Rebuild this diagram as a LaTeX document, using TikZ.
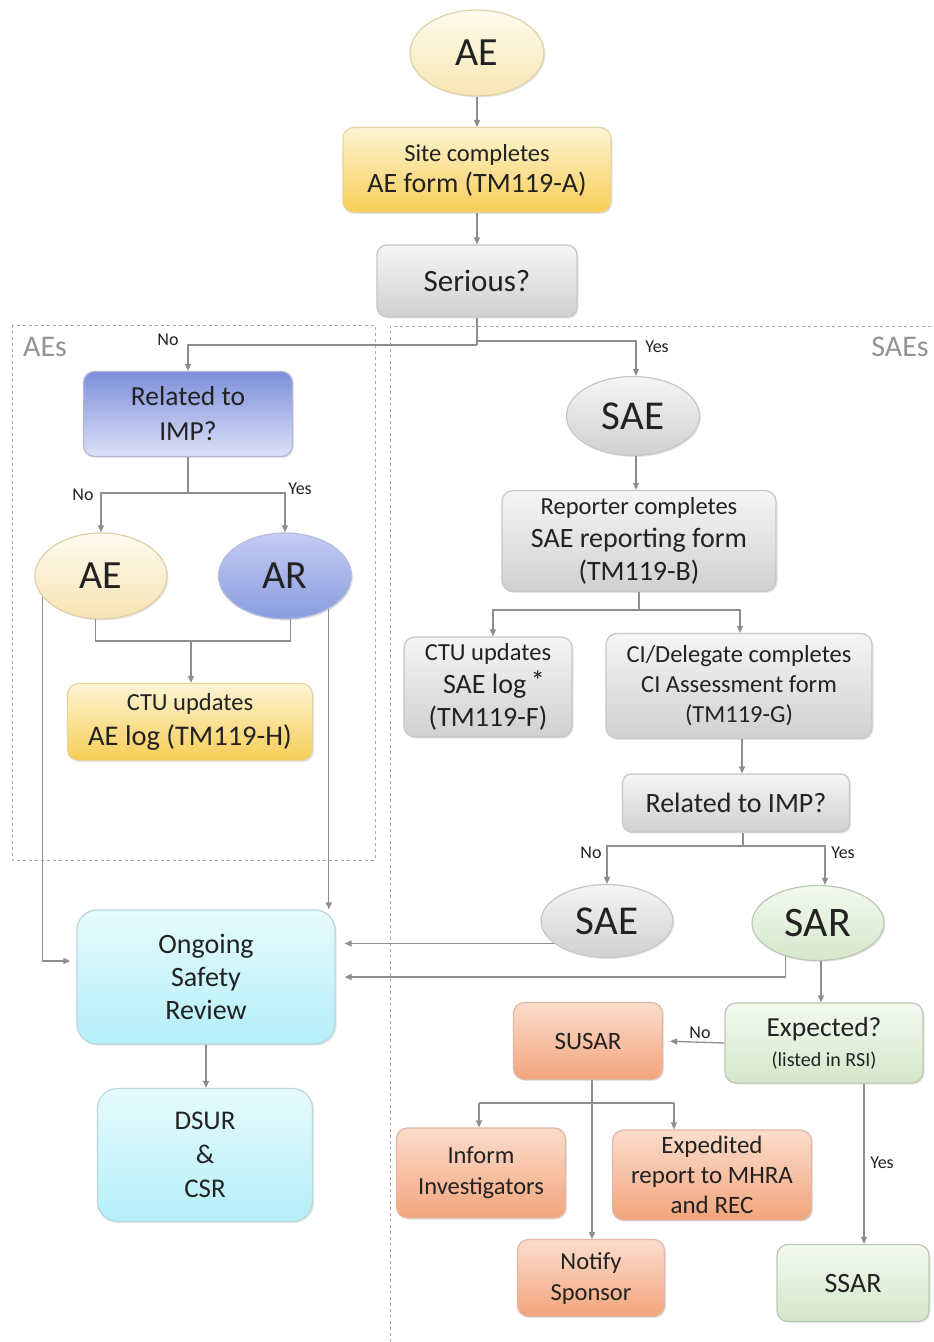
\documentclass[tikz,border=0pt]{standalone}
\usepackage{fontspec}
\setmainfont{Carlito}
\usetikzlibrary{shapes.geometric,arrows.meta,shadows,calc}
\newcommand\fz[2]{\fontsize{#1}{#2}\selectfont}
\definecolor{ln}{HTML}{8E8E8E}
\definecolor{txt}{HTML}{222222}
\definecolor{dash}{HTML}{A8A8A8}
\definecolor{bord}{HTML}{C6C6C6}
\definecolor{yelT}{HTML}{FEFAEC}\definecolor{yelB}{HTML}{F7E6B4}
\definecolor{goldT}{HTML}{FDF4D4}\definecolor{goldB}{HTML}{F7CD55}
\definecolor{grT}{HTML}{F5F5F5}\definecolor{grB}{HTML}{D0D0D0}
\definecolor{blT}{HTML}{7D8FDB}\definecolor{blB}{HTML}{DCE1F7}
\definecolor{bcT}{HTML}{C3CCF2}\definecolor{bcB}{HTML}{8A9CE0}
\definecolor{crT}{HTML}{FEFBF0}\definecolor{crB}{HTML}{F5E3B0}
\definecolor{cyT}{HTML}{E6FBFD}\definecolor{cyB}{HTML}{B4EFF8}
\definecolor{gnT}{HTML}{F3F9EF}\definecolor{gnB}{HTML}{D4E7CA}
\definecolor{orT}{HTML}{FBDDCC}\definecolor{orB}{HTML}{F3A47C}
\begin{document}
\begin{tikzpicture}[x=1pt,y=-1pt,
  base/.style={draw=bord, line width=1.2pt, inner sep=0pt, align=center, text=txt,
    drop shadow={shadow xshift=1.5pt,shadow yshift=-1.5pt,opacity=.18}},
  rbox/.style={base, rectangle, rounded corners=11pt},
  oval/.style={base, ellipse},
  yel/.style={top color=yelT, bottom color=yelB, draw=yelB!80!gray},
  gold/.style={top color=goldT, bottom color=goldB, draw=goldB!70!gray!60},
  gry/.style={top color=grT, bottom color=grB},
  blu/.style={top color=blT, bottom color=blB, draw=blT!60!gray!60},
  bluc/.style={top color=bcT, bottom color=bcB, draw=bcB!70!gray!60},
  crm/.style={top color=crT, bottom color=crB, draw=crB!80!gray},
  cyn/.style={top color=cyT, bottom color=cyB, draw=cyB!60!gray!70, rounded corners=20pt},
  grn/.style={top color=gnT, bottom color=gnB, draw=gnB!70!gray},
  org/.style={top color=orT, bottom color=orB, draw=orB!70!gray!70},
  line/.style={draw=ln, line width=1.3pt},
  arr/.style={line, -{Triangle[length=7pt,width=6pt]}},
  lab/.style={font=\fz{18}{20}, text=txt, inner sep=0pt},
  zone/.style={draw=dash, line width=1pt, dash pattern=on 3pt off 3pt},
  zlab/.style={font=\fz{30}{30}, text=gray!85, inner sep=0pt}
]
\useasboundingbox[fill=white] (0,0) rectangle (934,1342);

% zones
\draw[zone] (12,325) rectangle (375,860);
\draw[zone] (390,1342) -- (390,326) -- (934,326);
\node[zlab] (aes) at (45,347) {AEs};
\node[zlab] (saes) at (900,347) {SAEs};

% top
\node[oval, yel, minimum width=134pt, minimum height=86pt, font=\fz{40}{44}] (ae0) at (477,53) {AE};
\node[rbox, gold, minimum width=268pt, minimum height=85pt, font=\fz{28}{31}] (site) at (477,170) {{\fz{24.5}{31}Site completes}\\AE form (TM119-A)};
\node[rbox, gry, rounded corners=10pt, minimum width=200pt, minimum height=72pt, font=\fz{31}{34}] (ser) at (477,281) {Serious?};

% AEs side
\node[rbox, blu, minimum width=209pt, minimum height=85pt, font=\fz{27.5}{35}] (rel) at (188,414) {Related to\\IMP?};
\node[oval, crm, minimum width=132pt, minimum height=86pt, font=\fz{40}{44}] (aeL) at (101,576) {AE};
\node[oval, bluc, minimum width=133pt, minimum height=86pt, font=\fz{40}{44}] (ar) at (285,576) {AR};
\node[rbox, gold, minimum width=245pt, minimum height=77pt, font=\fz{28.5}{35}] (ctuA) at (190,722) {{\fz{24.5}{35}CTU updates}\\AE log (TM119-H)};
\node[rbox, cyn, minimum width=258pt, minimum height=134pt, font=\fz{28}{33}] (osr) at (206,977) {Ongoing\\Safety\\Review};
\node[rbox, cyn, minimum width=215pt, minimum height=133pt, font=\fz{27}{34}] (dsur) at (205,1155) {DSUR\\\&\\CSR};

% SAEs side
\node[oval, gry, minimum width=133pt, minimum height=79pt, font=\fz{41}{44}] (sae1) at (633,416) {SAE};
\node[rbox, gry, minimum width=274pt, minimum height=101pt, font=\fz{28}{33}] (rep) at (639,541) {{\fz{24.5}{33}Reporter completes}\\SAE reporting form\\(TM119-B)};
\node[rbox, gry, minimum width=168pt, minimum height=100pt, font=\fz{28}{33}] (ctuS) at (488,687) {{\fz{24.5}{33}CTU updates}\\\hspace*{12pt}SAE log\,\raisebox{3pt}{*}\\(TM119-F)};
\node[rbox, gry, minimum width=266pt, minimum height=105pt, font=\fz{24.5}{30}] (ci) at (739,686) {CI/Delegate completes\\CI Assessment form\\(TM119-G)};
\node[rbox, gry, rounded corners=9pt, minimum width=227pt, minimum height=58pt, font=\fz{28}{30}] (rel2) at (736,803) {Related to IMP?};
\node[oval, gry, minimum width=132pt, minimum height=73pt, font=\fz{41}{44}] (sae2) at (607,921) {SAE};
\node[oval, grn, minimum width=132pt, minimum height=75pt, font=\fz{42}{44}] (sar) at (818,923) {SAR};
\node[rbox, grn, minimum width=198pt, minimum height=80pt, font=\fz{27.5}{30}] (exp) at (824,1043) {Expected?\\{\fz{20}{30}(listed in RSI)}};
\node[rbox, org, minimum width=149pt, minimum height=77pt, font=\fz{25}{30}] (susar) at (588,1041) {SUSAR};
\node[rbox, org, minimum width=169pt, minimum height=90pt, font=\fz{24.5}{31}] (inform) at (481,1173) {Inform\\Investigators};
\node[rbox, org, minimum width=199pt, minimum height=90pt, font=\fz{25}{30}] (expd) at (712,1175) {Expedited\\report to MHRA\\and REC};
\node[rbox, org, minimum width=147pt, minimum height=77pt, font=\fz{24.5}{31}] (notify) at (591,1278) {Notify\\Sponsor};
\node[rbox, grn, minimum width=152pt, minimum height=77pt, font=\fz{28}{30}] (ssar) at (853,1283) {SSAR};

% connectors top
\draw[arr] (ae0.south) -- (site.north);
\draw[arr] (site.south) -- (ser.north);
\coordinate (j1) at (477,345);
\draw[line] (ser.south) -- (j1);
\draw[arr] (j1) -| (rel.north);
\draw[arr] (ser.south |- 0,341) -| (sae1.north -| 636,0);
\node[lab] (no1) at (168,340) {No};
\node[lab] (yes1) at (657,347) {Yes};

% AEs connectors
\coordinate (j2) at (188,493);
\draw[line] (rel.south) -- (j2);
\draw[arr] (j2) -| (aeL.north);
\draw[arr] (j2) -| (ar.north);
\node[lab] (no2) at (83,495) {No};
\node[lab] (yes2) at (300,489) {Yes};
\coordinate (m1) at (191,641);
\draw[line] (aeL.-97) |- (m1) -| (ar.-83);
\draw[arr] (m1) -- (m1 |- ctuA.north);
\draw[arr, shorten >=6pt] (aeL.200) |- ([yshift=16pt]osr.west);
\draw[arr] (ar.-37) -- (ar.-37 |- osr.north);
\draw[arr] (osr.south) -- (osr.south |- dsur.north);

% SAEs connectors
\draw[arr] (sae1.south -| 636,0) -- (rep.north -| 636,0);
\coordinate (j3) at (639,610);
\draw[line] (rep.south) -- (j3);
\draw[arr] (j3) -| (ctuS.north -| 493,0);
\draw[arr] (j3) -| (ci.north -| 740,0);
\draw[arr] (ci.south -| 742,0) -- (rel2.north -| 742,0);
\coordinate (j4) at (743,846);
\draw[line] (rel2.south -| j4) -- (j4);
\draw[arr] (j4) -| (sae2.north);
\draw[arr] (j4) -| (sar.north -| 825,0);
\node[lab] (no3) at (591,853) {No};
\node[lab] (yes3) at (843,853) {Yes};
\draw[arr, shorten >=9pt] (sae2.203) -- (sae2.203 -| osr.east);
\draw[arr, shorten >=9pt] (sar.226) |- (osr.east);
\draw[arr] (sar.south -| 821,0) -- (exp.north -| 821,0);
\draw[arr, shorten >=7pt] (exp.west) -- (susar.east);
\node[lab] (no4) at (700,1033) {No};
\coordinate (c0) at (592,1103);
\coordinate (c1) at (479,1103);
\coordinate (c2) at (674,1103);
\draw[line] (c1) -- (c2);
\draw[arr] (susar.south -| c0) -- (notify.north -| c0);
\draw[arr] (c1) -- (c1 |- inform.north);
\draw[arr] (c2) -- (c2 |- expd.north);
\draw[arr] (exp.south -| 864,0) -- (ssar.north -| 864,0);
\node[lab] (yes4) at (882,1163) {Yes};
\end{tikzpicture}
\end{document}
